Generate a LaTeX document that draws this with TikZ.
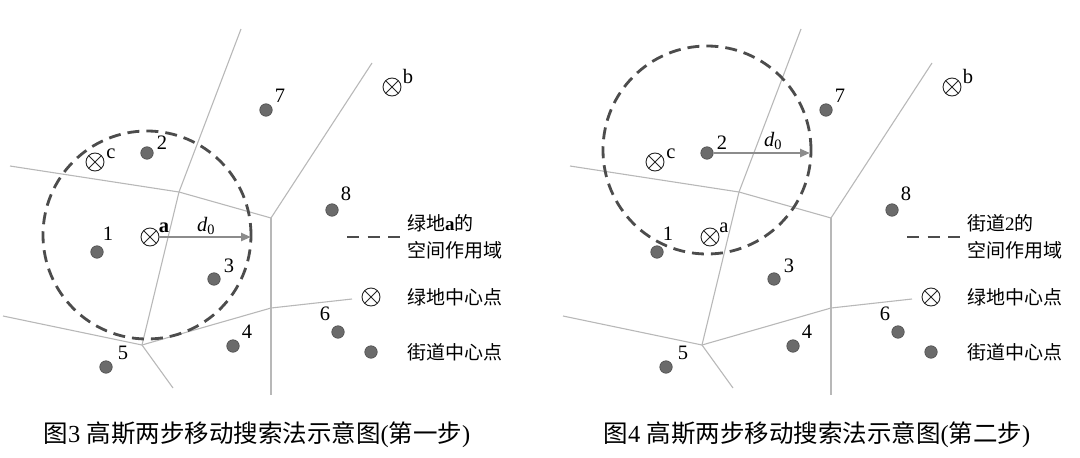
\documentclass[tikz,border=0pt]{standalone}
\usepackage{fontspec}
\setmainfont{Liberation Serif}
\newfontfamily\cjk{Noto Sans CJK SC}
\usetikzlibrary{arrows.meta,positioning}
\definecolor{cellgray}{gray}{0.72}
\definecolor{ringgray}{gray}{0.3}
\definecolor{dotfill}{gray}{0.42}
\definecolor{dotline}{gray}{0.3}
\definecolor{reachgray}{gray}{0.55}
\tikzset{
  cell/.style={draw=cellgray,line width=1.1pt},
  ring/.style={draw=ringgray,line width=2.8pt,dash pattern=on 12pt off 7pt},
  street/.style={circle,draw=dotline,fill=dotfill,line width=0.6pt,minimum size=12.5pt,inner sep=0pt},
  park/.style={circle,draw=black!85,line width=0.9pt,minimum size=18pt,inner sep=0pt,
    path picture={\draw[black!85,line width=0.9pt]
      (path picture bounding box.north west) -- (path picture bounding box.south east)
      (path picture bounding box.north east) -- (path picture bounding box.south west);}},
  num/.style={font=\fontsize{20.5}{22}\selectfont,inner sep=0pt},
  legtext/.style={font=\cjk\fontsize{19}{27}\selectfont,anchor=west,inner sep=0pt,align=left},
  capt/.style={font=\fontsize{24.5}{26}\selectfont,inner sep=0pt},
  reach/.style={draw=reachgray,line width=2.4pt,-{Triangle[length=10pt,width=8pt]}}
}

\begin{document}
\begin{tikzpicture}[x=1pt,y=-1pt]
  \useasboundingbox (0,0) rectangle (1080,458);
  \foreach \p/\sx/\n/\st/\cy/\af in {L/0/3/一/235/\bfseries,R/560/4/二/150/\relax}{
  \begin{scope}[xshift=\sx]
    % cell boundaries
    \coordinate (\p-v1) at (179,192);
    \coordinate (\p-v2) at (271,218);
    \coordinate (\p-v3) at (142,345);
    \coordinate (\p-v4) at (271,308);
    \coordinate (\p-e1) at (241,29);
    \coordinate (\p-e2) at (10,166);
    \coordinate (\p-e3) at (372,63);
    \coordinate (\p-e4) at (271,395);
    \coordinate (\p-e5) at (352,299);
    \coordinate (\p-e6) at (3,316);
    \coordinate (\p-e7) at (173,388);
    \draw[cell] (\p-e1) -- (\p-v1) -- (\p-v3) -- (\p-e7);
    \draw[cell] (\p-e2) -- (\p-v1) -- (\p-v2) -- (\p-e3);
    \draw[cell] (\p-e6) -- (\p-v3) -- (\p-v4) -- (\p-e5);
    \draw[cell] (\p-v2) -- (\p-v4) -- (\p-e4);
    % search area
    \draw[ring] (147,\cy) circle[radius=104pt];
    % street centres
    \node[street] (\p-s1) at (97,252) {};
    \node[street] (\p-s2) at (147,153) {};
    \node[street] (\p-s3) at (214,279) {};
    \node[street] (\p-s4) at (233,346) {};
    \node[street] (\p-s5) at (106,367) {};
    \node[street] (\p-s6) at (338,332) {};
    \node[street] (\p-s7) at (266,110) {};
    \node[street] (\p-s8) at (332,210) {};
    \node[num] (\p-t1) at (108,234) {1};
    \node[num] (\p-t2) at (162,143) {2};
    \node[num] (\p-t3) at (229,266) {3};
    \node[num] (\p-t4) at (247,332) {4};
    \node[num] (\p-t5) at (123,353) {5};
    \node[num] (\p-t6) at (325,314) {6};
    \node[num] (\p-t7) at (280,96) {7};
    \node[num] (\p-t8) at (346,194) {8};
    % green space centres
    \node[park] (\p-a) at (150,237) {};
    \node[park] (\p-b) at (392,87) {};
    \node[park] (\p-c) at (95,162) {};
    \node[num] (\p-ta) at (164,228) {\af a};
    \node[num] (\p-tb) at (408,76) {b};
    \node[num] (\p-tc) at (111,154) {c};
    % legend
    \coordinate (\p-l1) at (347,237);
    \coordinate (\p-l2) at (400,237);
    \draw[ring,dash pattern=on 12pt off 8.5pt] (\p-l1) -- (\p-l2);
    \node[park] (\p-kp) at (371,297) {};
    \node[legtext] (\p-kpt) at (407,297) {绿地中心点};
    \node[street] (\p-ks) at (371,352) {};
    \node[legtext] (\p-kst) at (407,352) {街道中心点};
    \node[capt] (\p-cap) at (257,435) {{\cjk 图}\n\ {\cjk 高斯两步移动搜索法示意图}({\cjk 第\st 步})};
  \end{scope}
  }
  % first step: around green space a
  \coordinate (L-tip) at (251,237);
  \draw[reach] (L-a) -- (L-tip);
  \node[num] (L-d) at (206,226) {\textit{d}\textsubscript{0}};
  \node[legtext] (L-kr) at (407,237) {绿地{\rmfamily\bfseries a}的\\空间作用域};
  % second step: around street 2
  \coordinate (R-tip) at (810,153);
  \draw[reach] (R-s2) -- (R-tip);
  \node[num] (R-d) at (773,141) {\textit{d}\textsubscript{0}};
  \node[legtext] (R-kr) at (967,237) {街道{\rmfamily 2}的\\空间作用域};
\end{tikzpicture}
\end{document}
